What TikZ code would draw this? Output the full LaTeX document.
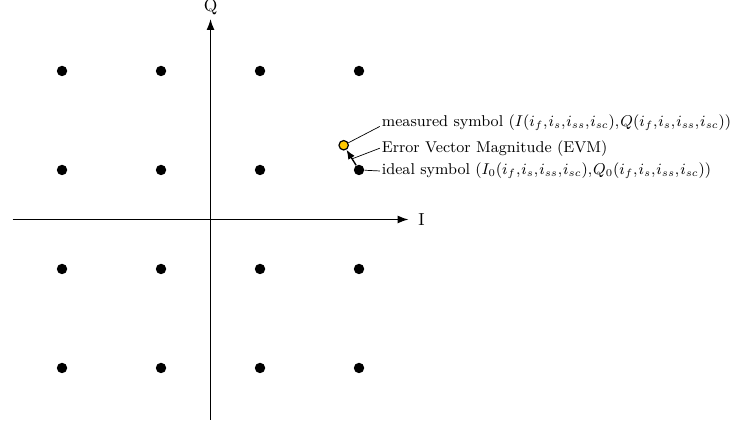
\documentclass[tikz,border=0pt]{standalone}
\usetikzlibrary{arrows.meta,calc}

\newcommand\tightcommas{\thinmuskip=1mu\relax}
\tikzset{
    dot/.style={circle, fill=black, inner sep=0pt, minimum size=2.1mm},
    measdot/.style={circle, draw=black, line width=0.7pt, fill=symyellow, inner sep=0pt, minimum size=1.9mm},
    note/.style={anchor=west, inner sep=1pt, font=\small\tightcommas},
    axis/.style={line width=0.8pt, -{Latex[length=2.2mm, width=1.6mm]}},
}
\definecolor{symyellow}{RGB}{255,200,0}

\begin{document}
\begin{tikzpicture}
    \useasboundingbox (-4.253,-4.111) rectangle (10.535,4.434);

    % axes
        \coordinate (Istart) at (-4,0);
        \coordinate (Iend) at (4,0);
        \coordinate (Qstart) at (0,-4.05);
        \coordinate (Qend) at (0,4.05);
        \draw[axis] (Istart) -- (Iend) node[right=2pt] (Ilabel) {I};
        \draw[axis] (Qstart) -- (Qend) node[above=-1.5pt] (Qlabel) {Q};

    % constellation points
        \foreach \i in {1,...,4}
            \foreach \q in {1,...,4}
                \node[dot] (p\i\q) at ({2*\i-5},{2*\q-5}) {};

    % measured symbol and error vector
        \node[measdot] (meas) at (2.69,1.50) {};
        \draw[-{Latex[length=1.9mm, width=1.5mm]}, line width=0.8pt] (p43) -- (meas);
        \coordinate (evm) at ($(p43)!0.45!(meas)$);

    % labels
        \node[note] (measlabel) at (3.42,1.95) {measured symbol $(I(i_f,i_s,i_{ss},i_{sc}),Q(i_f,i_s,i_{ss},i_{sc}))$};
        \node[note] (evmlabel) at (3.42,1.44) {Error Vector Magnitude (EVM)};
        \node[note] (ideallabel) at (3.42,0.98) {ideal symbol $(I_0(i_f,i_s,i_{ss},i_{sc}),Q_0(i_f,i_s,i_{ss},i_{sc}))$};

        \draw (meas) -- ([yshift=-2pt]measlabel.west);
        \draw (evm) -- (evmlabel.west);
        \draw (p43) -- (ideallabel.west);
\end{tikzpicture}
\end{document}
